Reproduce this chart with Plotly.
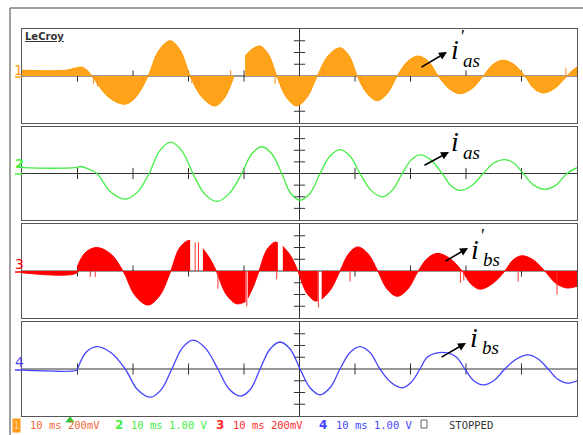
import plotly.graph_objects as go

W, H = 583, 435

# ---------------- data (time in ms, amplitude in screen divisions) ----------------
TIME_TICKS = [10, 20, 30, 40, 60, 70, 80, 90]
DIV_TICKS = [-3, -2, -1, 1, 2, 3]

# channel 1 (orange, i'_as) envelope; None marks a break in the trace
ORANGE_T = [0, 4, 8, 10.8, 11.7, 12.6, 15.6, 18.6, 20.6, 22.7, 24.7, 26.7, 28.5, 30.3,
            32.5, 34.8, 36.5, 38.2, None,
            40.2, 41.5, 42.9, 44.4, 45.9, 47.7, 49.5, 51.3, 53.2, 55.2, 57.3, 58.9, 60.4,
            62.2, 64.0, 65.8, 67.6, 69.5, 71.4, 73.2, 75.0, 77.0, 78.9, 81.0, 83.1,
            84.9, 86.7, 88.6, 90.6, 92.2, 93.9, 96.0, 98.2, 99.1, 100]
ORANGE_V = [0.5, 0.45, 0.5, 0.75, 0.5, 0, -1.8, -2.4, -1.75, 0, 2.2, 3.0, 2.2, 0,
            -1.85, -2.55, -1.85, 0, None,
            1.7, 2.3, 2.55, 1.85, 0, -1.85, -2.55, -1.85, 0, 1.75, 2.4, 1.75, 0,
            -1.5, -2.1, -1.5, 0, 1.25, 1.7, 1.25, 0, -1.1, -1.5, -1.1, 0,
            1.0, 1.35, 1.0, 0, -1.05, -1.45, -1.05, 0, 0.45, 0.75]
ORANGE_SPIKE_T = [12.9, 13.6, 21.8, 30.6, 31.3, 31.9, 37.6, 45.6, 54.3, 61.0, 81.5, 98.0]
ORANGE_SPIKE_V = [-0.7, -0.9, -0.5, -0.6, -1.0, -0.8, 0.5, -0.7, 0.6, -0.4, -0.5, 0.7]

# channel 2 (green, i_as)
GREEN_T = [0, 5, 9.5, 10.5, 11.7, 13.5, 16.0, 18.6, 20.8, 22.9, 24.8, 26.8, 28.8, 30.8,
           32.9, 35.1, 37.3, 39.6, 41.4, 43.2, 45.0, 46.8, 48.4, 50.1, 51.9, 53.7,
           55.5, 57.3, 59.1, 60.9, 62.9, 64.9, 66.7, 68.5, 70.1, 71.7, 73.7, 75.7,
           77.3, 78.9, 81.0, 83.1, 85.0, 87.0, 88.6, 90.3, 92.2, 94.2, 96.2, 98.2, 100]
GREEN_V = [0.5, 0.45, 0.5, 0.6, 0.45, 0, -1.6, -2.2, -1.6, 0, 1.95, 2.7, 1.95, 0,
           -1.75, -2.4, -1.75, 0, 1.7, 2.3, 1.7, 0, -1.7, -2.3, -1.7, 0,
           1.5, 2.05, 1.5, 0, -1.45, -2.0, -1.45, 0, 1.15, 1.6, 1.15, 0,
           -1.05, -1.45, -1.05, 0, 0.9, 1.2, 0.9, 0, -1.0, -1.35, -1.0, 0, 0.5]

# channel 3 (red, i'_bs) envelope with notches
RED_T = [0, 9.9, 10.1, 11.5, 13.5, 16.0, 18.2, 20.4, 22.7, 24.8, 26.8, 28.3, 29.7, 30.3, None,
         32.6, 33.8, 35.0, 36.8, 38.7, 40.3, None,
         40.7, 41.7, 42.7, 44.1, 45.5, 46.1, None,
         47.0, 48.4, 49.7, 51.2, 52.8, 53.3, None,
         54.0, 55.6, 57.3, 58.9, 60.5, 62.3, 64.1, 65.8, 67.6, 69.5, 71.4, 73.1, 74.8,
         77.0, 79.3, 80.9, 82.5, 84.7, 87.0, 88.5, 90.1, 92.1, 94.2, 96.2, 98.2, 100]
RED_V = [-0.15, -0.15, 0.5, 1.6, 2.0, 1.45, 0, -2.1, -2.9, -2.1, 0, 1.9, 2.55, 2.6, None,
         1.9, 1.1, 0, -2.0, -2.8, -2.6, None,
         -2.3, -1.3, 0, 1.8, 2.45, 2.4, None,
         2.1, 1.3, 0, -1.8, -2.55, -2.5, None,
         -2.4, -1.6, 0, 1.5, 2.05, 1.5, 0, -1.55, -2.15, -1.55, 0, 1.1, 1.5,
         1.1, 0, -1.1, -1.55, -1.1, 0, 0.95, 1.3, 0.95, 0, -1.05, -1.45, -1.3]
RED_SPIKE_T = [12.3, 13.2, 31.2, 31.8, 35.3, 40.5, 45.9, 53.4, 59.1, 79.0, 79.6, 89.4, 96.4]
RED_SPIKE_V = [-0.5, -0.5, 2.45, 2.45, -1.5, -3.0, -0.7, -3.1, -0.9, -1.0, -0.8, -0.9, -2.0]

# channel 4 (blue, i_bs)
BLUE_T = [0, 9.9, 10.0, 11.5, 13.5, 16.0, 18.6, 20.8, 23.1, 25.1, 27.0, 28.9, 30.8, 33.0,
          35.3, 37.3, 39.4, 41.2, 42.9, 44.7, 46.5, 48.3, 50.1, 51.9, 53.7, 55.5, 57.3,
          59.1, 60.9, 62.7, 64.5, 66.5, 68.5, 70.1, 71.7, 73.0, 74.6, 76.8, 78.3, 79.8,
          81.4, 83.1, 85.0, 87.0, 89.1, 91.2, 93.0, 94.8, 96.5, 98.2, 100]
BLUE_V = [-0.1, -0.1, 0, 1.4, 1.9, 1.4, 0, -1.75, -2.4, -1.75, 0, 1.8, 2.45, 1.8,
          0, -1.7, -2.3, -1.7, 0, 1.7, 2.3, 1.7, 0, -1.6, -2.2, -1.6, 0,
          1.4, 1.9, 1.4, 0, -1.15, -1.6, -1.15, 0, 1.0, 1.35, 1.35, 1.0, 0,
          -1.0, -1.35, -1.0, 0, 0.85, 1.2, 0.85, 0, -0.85, -1.2, -1.0]

LEGEND_ITEMS = [("1", "10 ms 200mV"), ("2", "10 ms 1.00 V"),
                ("3", "10 ms 200mV"), ("4", "10 ms 1.00 V")]

# ---------------- styling ----------------
ORANGE_LINE, ORANGE_FILL = "#ff9a00", "#ffa31a"
RED = "#ff0000"
GREEN = "#44ee44"
BLUE = "#4444ff"
AXIS = "#555555"
MONO = "DejaVu Sans Mono"
SERIF = "Liberation Serif"

PANELS = [(29, 123), (127, 220), (224, 318), (322, 416)]  # pixel top/bottom
X0, X1 = 22, 577


def px(x):
    return x / W


def py(y):
    return 1 - y / H


def split(ts, vs):
    segs, ct, cv = [], [], []
    for t, v in zip(ts, vs):
        if t is None:
            if ct:
                segs.append((ct, cv))
            ct, cv = [], []
        else:
            ct.append(t)
            cv.append(v)
    if ct:
        segs.append((ct, cv))
    return segs


def spikes(ts, vs):
    x, y = [], []
    for t, v in zip(ts, vs):
        x += [t, t, None]
        y += [0, v, None]
    return x, y


fig = go.Figure()
layout = dict(width=W, height=H, margin=dict(l=0, r=0, t=0, b=0),
              paper_bgcolor="white", plot_bgcolor="white", showlegend=False)
shapes = []
for i, (top, bot) in enumerate(PANELS):
    n = "" if i == 0 else str(i + 1)
    layout["xaxis" + n] = dict(domain=[px(X0), px(X1)], range=[0, 100], anchor="y" + n,
                               showgrid=False, zeroline=False, showticklabels=False,
                               showline=True, mirror=True, linecolor=AXIS, linewidth=1,
                               ticks="", fixedrange=True)
    layout["yaxis" + n] = dict(domain=[py(bot), py(top)], range=[-4, 4], anchor="x" + n,
                               showgrid=False, zeroline=False, showticklabels=False,
                               showline=True, mirror=True, linecolor=AXIS, linewidth=1,
                               ticks="", fixedrange=True)
    xr, yr = "x" + n, "y" + n
    shapes.append(dict(type="line", xref=xr, yref=yr, x0=0, x1=100, y0=0, y1=0,
                       line=dict(color="#333", width=1), layer="below"))
    shapes.append(dict(type="line", xref=xr, yref=yr, x0=50, x1=50, y0=-4, y1=4,
                       line=dict(color="#333", width=1), layer="below"))
    # tick marks on the centre cross
    fig.add_trace(go.Scatter(x=TIME_TICKS, y=[0] * len(TIME_TICKS), mode="markers",
                             marker=dict(symbol="line-ns", size=8,
                                         line=dict(width=1, color="#333")),
                             xaxis=xr, yaxis=yr, hoverinfo="skip"))
    fig.add_trace(go.Scatter(x=[50] * len(DIV_TICKS), y=DIV_TICKS, mode="markers",
                             marker=dict(symbol="line-ew", size=8,
                                         line=dict(width=1, color="#333")),
                             xaxis=xr, yaxis=yr, hoverinfo="skip"))


def filled(ts, vs, line_c, fill_c, xr, yr):
    for st, sv in split(ts, vs):
        fig.add_trace(go.Scatter(x=st, y=sv, mode="lines",
                                 line=dict(shape="spline", smoothing=1, color=line_c, width=1),
                                 fill="tozeroy", fillcolor=fill_c,
                                 xaxis=xr, yaxis=yr, hoverinfo="skip"))


filled(ORANGE_T, ORANGE_V, ORANGE_LINE, ORANGE_FILL, "x", "y")
sx, sy = spikes(ORANGE_SPIKE_T, ORANGE_SPIKE_V)
fig.add_trace(go.Scatter(x=sx, y=sy, mode="lines", line=dict(color="#ff8c20", width=1),
                         xaxis="x", yaxis="y", hoverinfo="skip"))

fig.add_trace(go.Scatter(x=GREEN_T, y=GREEN_V, mode="lines",
                         line=dict(shape="spline", smoothing=1, color=GREEN, width=1.3),
                         xaxis="x2", yaxis="y2", hoverinfo="skip"))

filled(RED_T, RED_V, RED, RED, "x3", "y3")
sx, sy = spikes(RED_SPIKE_T, RED_SPIKE_V)
fig.add_trace(go.Scatter(x=sx, y=sy, mode="lines", line=dict(color="#ff3030", width=1),
                         xaxis="x3", yaxis="y3", hoverinfo="skip"))

fig.add_trace(go.Scatter(x=BLUE_T, y=BLUE_V, mode="lines",
                         line=dict(shape="spline", smoothing=1, color=BLUE, width=1.3),
                         xaxis="x4", yaxis="y4", hoverinfo="skip"))

# outer frame
shapes.append(dict(type="line", xref="paper", yref="paper", x0=px(10), x1=px(10),
                   y0=py(8), y1=0, line=dict(color="#808080", width=1.5)))
shapes.append(dict(type="line", xref="paper", yref="paper", x0=px(10), x1=1,
                   y0=py(8), y1=py(8), line=dict(color="#808080", width=1.5)))
# channel ground markers at left
for yy, col in [(77, ORANGE_FILL), (174, GREEN), (272, RED), (370, BLUE)]:
    shapes.append(dict(type="line", xref="paper", yref="paper", x0=px(15), x1=px(22),
                       y0=py(yy), y1=py(yy), line=dict(color=col, width=1.5)))
# trigger arrow and status box at bottom
shapes.append(dict(type="path", xref="paper", yref="paper",
                   path=f"M {px(66)} {py(422)} L {px(74)} {py(422)} L {px(70)} {py(417)} Z",
                   fillcolor="#33cc33", line=dict(color="#33cc33", width=1)))
shapes.append(dict(type="rect", xref="paper", yref="paper", x0=px(421), x1=px(427),
                   y0=py(428), y1=py(420), line=dict(color="#666", width=1)))
layout["shapes"] = shapes

ann = []


def txt(x, y, s, size, color, family=MONO, xanchor="left", **kw):
    ann.append(dict(x=px(x), y=py(y), xref="paper", yref="paper", text=s, showarrow=False,
                    xanchor=xanchor, yanchor="middle",
                    font=dict(size=size, color=color, family=family), **kw))


def arrow(tx, ty, hx, hy):
    ann.append(dict(x=px(hx), y=py(hy), xref="paper", yref="paper", text="",
                    showarrow=True, axref="pixel", ayref="pixel", ax=tx - hx, ay=ty - hy,
                    arrowhead=2, arrowsize=1, arrowwidth=1.6, arrowcolor="black", standoff=0))


# LeCroy logo
txt(23, 37, "<b><u>LeCroy</u></b>", 10, "#333", family="DejaVu Sans")

# channel numbers at left
txt(18, 70, "1", 14, "#ff9a1a", family="DejaVu Sans", xanchor="center")
txt(19, 164, "<b>2</b>", 13, GREEN, family="DejaVu Sans", xanchor="center")
txt(19, 264, "3", 14, RED, family="DejaVu Sans", xanchor="center")
txt(19, 362, "4", 14, BLUE, family="DejaVu Sans", xanchor="center")

# signal labels
LABELS = [
    # i centre, prime, subscript text, subscript centre, arrow tail, arrow head
    ((455, 50), True, "as", (471, 61), (420, 68), (447, 52)),
    ((455, 141), False, "as", (471, 152), (423, 166), (449, 152)),
    ((475, 249), True, "bs", (491, 259), (444, 262), (468, 248)),
    ((474, 337), False, "bs", (490, 347), (440, 358), (466, 343)),
]
for (ix, iy), prime, sub, (sx_, sy_), tail, head in LABELS:
    txt(ix, iy, "<i>i</i>", 28, "black", family=SERIF, xanchor="center")
    if prime:
        txt(ix + 8, iy - 13, "′", 18, "black", family=SERIF, xanchor="center")
    txt(sx_, sy_, f"<i>{sub}</i>", 19, "black", family=SERIF, xanchor="center")
    arrow(tail[0], tail[1], head[0], head[1])

# bottom status line
LEG_COLORS = ["#f4683a", GREEN, "#ff2a2a", BLUE]
LEG_NUM_X = [16, 119, 220, 323]
LEG_TXT_X = [28, 129, 231, 334]
for (num, s), c, nx, tx in zip(LEGEND_ITEMS, LEG_COLORS, LEG_NUM_X, LEG_TXT_X):
    if num == "1":
        txt(nx, 425, "1", 11, "#ffd08a", family=MONO, xanchor="center",
            bgcolor="#ff9a1a", borderpad=0)
    else:
        txt(nx, 425, f"<b>{num}</b>", 12, c, family="DejaVu Sans", xanchor="center")
    txt(tx, 425, s, 10.5, c)
txt(447, 425, "STOPPED", 10.5, "#333")

layout["annotations"] = ann
fig.update_layout(**layout)
fig.write_html("out.html")
